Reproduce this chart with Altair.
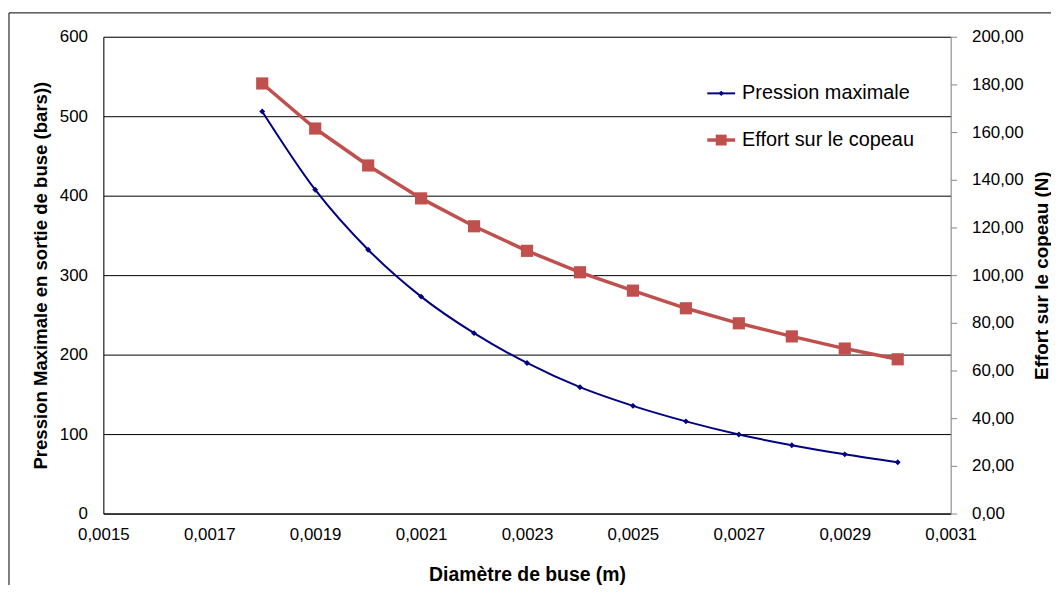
import altair as alt
import pandas as pd

# ---- data ----
diametre = [0.0018, 0.0019, 0.0020, 0.0021, 0.0022, 0.0023, 0.0024,
            0.0025, 0.0026, 0.0027, 0.0028, 0.0029, 0.0030]
pression = [506, 407.5, 332, 273, 227, 189.5, 159, 135.5, 116, 99.5, 86, 74.5, 64.5]
effort = [180.4, 161.5, 146.0, 132.2, 120.5, 110.2, 101.2, 93.5, 86.1, 79.8, 74.3, 69.2, 64.7]

x_ticks = [0.0015, 0.0017, 0.0019, 0.0021, 0.0023, 0.0025, 0.0027, 0.0029, 0.0031]
left_ticks = [0, 100, 200, 300, 400, 500, 600]
right_ticks = [0, 20, 40, 60, 80, 100, 120, 140, 160, 180, 200]

series_names = ["Pression maximale", "Effort sur le copeau"]
BLUE = "#000080"
RED = "#C0504D"
FONT = "Liberation Sans"

df = pd.DataFrame({"d": diametre, "p": pression, "e": effort})

x_enc = alt.X(
    "d:Q",
    scale=alt.Scale(domain=[0.0015, 0.0031], nice=False, zero=False),
    axis=alt.Axis(
        values=x_ticks,
        labelExpr="replace(format(datum.value, '.4f'), '.', ',')",
        title="Diamètre de buse (m)",
        titleFontSize=19.5, titleFontWeight="bold", titlePadding=23,
        labelFontSize=17, labelPadding=13, ticks=False,
        domainColor="#000000", grid=False, labelFlush=False,
    ),
)

y_left = alt.Y(
    "p:Q",
    scale=alt.Scale(domain=[0, 600], nice=False),
    axis=alt.Axis(
        orient="left", values=left_ticks,
        title="Pression Maximale en sortie de buse (bars))",
        titleFontSize=18.7, titleFontWeight="bold", titlePadding=9,
        labelFontSize=17, labelPadding=16, ticks=False,
        domainColor="#000000", grid=True, gridColor="#000000",
        gridOpacity=1, gridWidth=1,
    ),
)

y_right = alt.Y(
    "e:Q",
    scale=alt.Scale(domain=[0, 200], nice=False),
    axis=alt.Axis(
        orient="right", values=right_ticks,
        labelExpr="replace(format(datum.value, '.2f'), '.', ',')",
        title="Effort sur le copeau (N)", titleAngle=270, titleBaseline="top",
        titleFontSize=19, titleFontWeight="bold", titlePadding=9,
        labelFontSize=17, labelPadding=15, ticks=True, tickSize=6,
        tickColor="#888888", domainColor="#888888", grid=False,
    ),
)

base = alt.Chart(df)

blue_line = base.mark_line(color=BLUE, strokeWidth=2, interpolate="monotone").encode(x=x_enc, y=y_left)
blue_pts = base.mark_point(shape="diamond", filled=True, color=BLUE, size=35, opacity=1).encode(x=x_enc, y=y_left)
blue = alt.layer(blue_line, blue_pts)

red_line = base.mark_line(color=RED, strokeWidth=3.5).encode(x=x_enc, y=y_right)
red_pts = base.mark_point(shape="square", filled=True, color=RED, size=150, opacity=1).encode(x=x_enc, y=y_right)
red = alt.layer(red_line, red_pts)

# ---- manual legend ----
leg1 = pd.DataFrame({"label": [series_names[0]]})
leg2 = pd.DataFrame({"label": [series_names[1]]})

def legend_item(data, color, shape, size, sw, yv):
    line = alt.Chart(data).mark_rule(color=color, strokeWidth=sw).encode(
        x=alt.value(608), x2=alt.value(636), y=alt.value(yv))
    pt = alt.Chart(data).mark_point(shape=shape, filled=True, color=color, size=size, opacity=1).encode(
        x=alt.value(622), y=alt.value(yv))
    txt = alt.Chart(data).mark_text(align="left", baseline="middle", fontSize=20, font=FONT, color="#000000").encode(
        x=alt.value(643), y=alt.value(yv), text="label:N")
    return alt.layer(line, pt, txt)

legend = alt.layer(
    legend_item(leg1, BLUE, "diamond", 30, 2, 57),
    legend_item(leg2, RED, "square", 120, 3.5, 104),
)

# ---- outer frame (left & top edges) ----
frame_df = pd.DataFrame({"k": [0]})
frame_left = alt.Chart(frame_df).mark_rule(color="#000000", strokeWidth=1).encode(
    x=alt.value(-95), y=alt.value(-24), y2=alt.value(600))
frame_top = alt.Chart(frame_df).mark_rule(color="#000000", strokeWidth=1).encode(
    x=alt.value(-95), x2=alt.value(1000), y=alt.value(-24))

chart = alt.layer(blue, red, legend, frame_left, frame_top).resolve_scale(
    y="independent"
).properties(
    width=853, height=480,
    autosize=alt.AutoSizeParams(type="none"),
    padding={"left": 96, "top": 27, "right": 101, "bottom": 70},
).configure_view(stroke=None).configure(
    font=FONT
).configure_axis(
    labelFont=FONT, titleFont=FONT, labelColor="#000000", titleColor="#000000"
)

chart.save("out.html", embed_options={"renderer": "svg", "actions": False})
